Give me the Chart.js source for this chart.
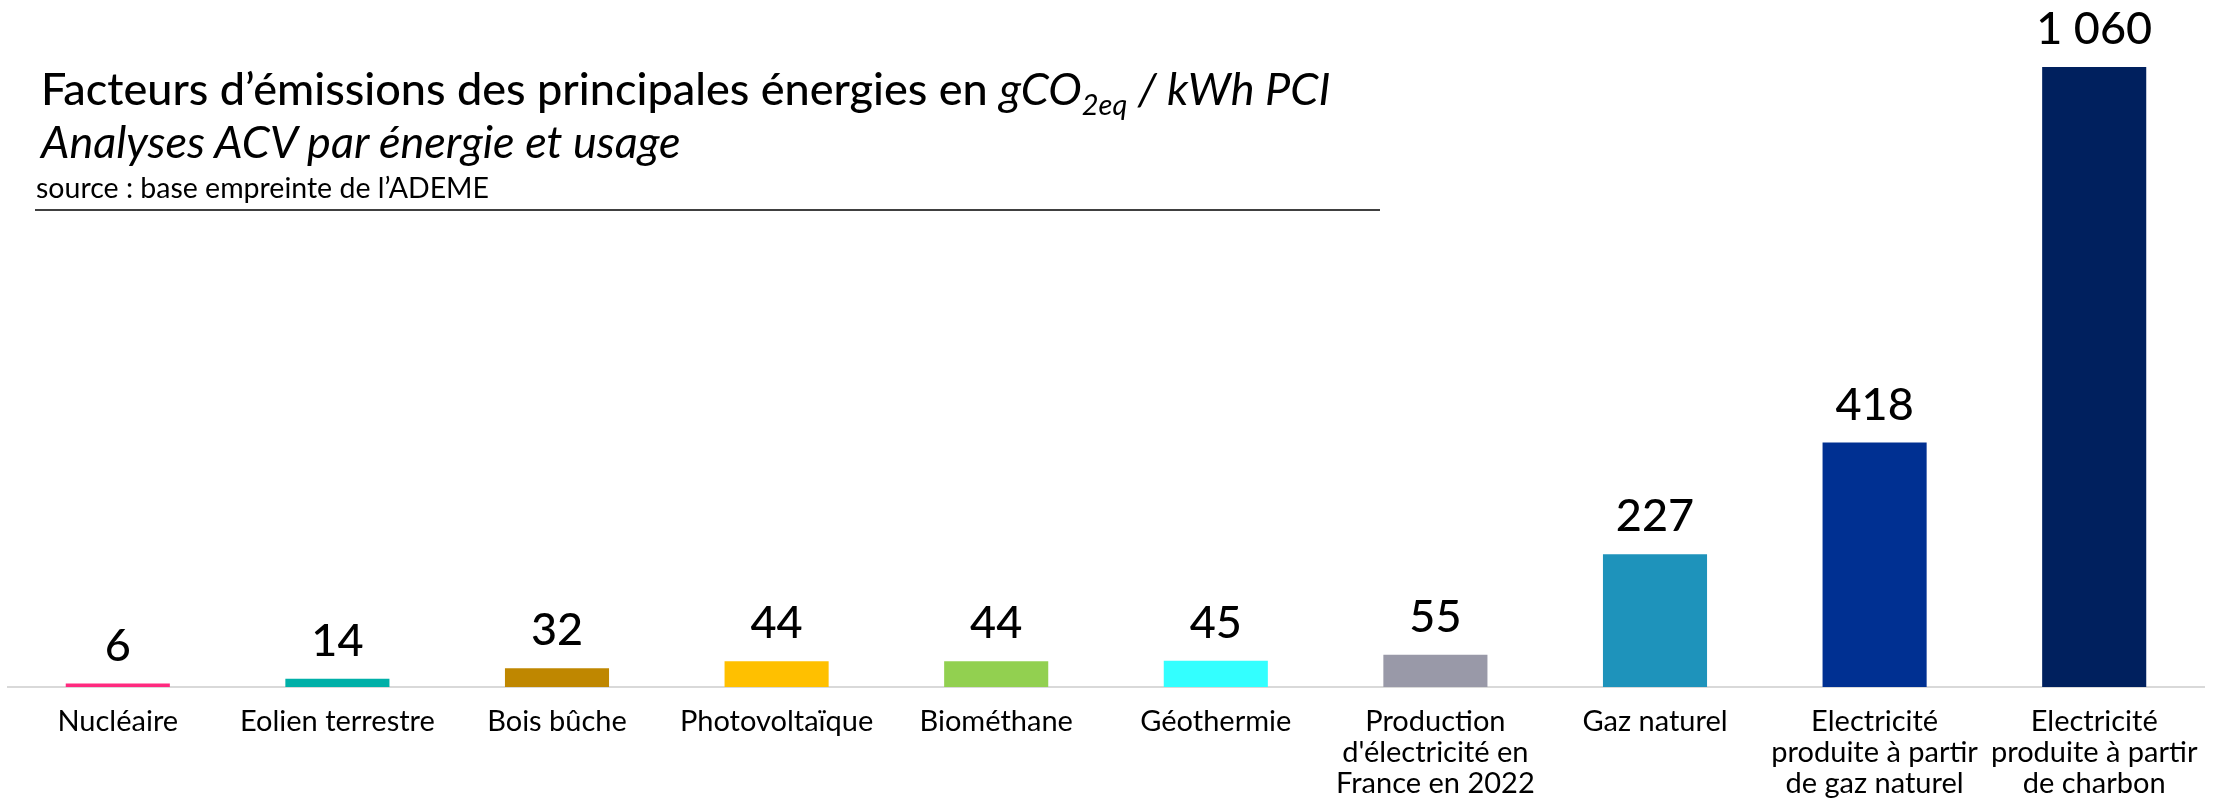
<!DOCTYPE html>
<html>
<head>
<meta charset="utf-8">
<script src="https://cdn.jsdelivr.net/npm/chart.js@4/dist/chart.umd.min.js"></script>
<style>
  html, body { margin: 0; padding: 0; background: #ffffff; }
  #wrap { position: relative; width: 2225px; height: 803px; }
  #c { position: absolute; left: 0; top: 0; }
  .t { position: absolute; font-family: Lato, "Noto Sans", sans-serif; color: #000; white-space: nowrap; line-height: 1.2; }
  #title { left: 41px; top: 61px; font-size: 45px; font-weight: 500; }
  #title i { font-weight: 400; }
  #title sub { font-size: 29px; vertical-align: -10px; line-height: 0; }
  #subtitle { left: 41px; top: 114px; font-size: 45px; font-style: italic; }
  #source { left: 36px; top: 170px; font-size: 28.5px; }
  #rule { position: absolute; left: 35px; top: 209px; width: 1345px; height: 2px; background: #404040; }
</style>
</head>
<body>
<div id="wrap">
  <canvas id="c" width="2225" height="803"></canvas>
  <div class="t" id="title">Facteurs d’émissions des principales énergies en <i>gCO<sub>2eq</sub> / kWh PCI</i></div>
  <div class="t" id="subtitle">Analyses ACV par énergie et usage</div>
  <div class="t" id="source">source : base empreinte de l’ADEME</div>
  <div id="rule"></div>
</div>
<script>
const categories = [
  "Nucléaire",
  "Eolien terrestre",
  "Bois bûche",
  "Photovoltaïque",
  "Biométhane",
  "Géothermie",
  ["Production", "d'électricité en", "France en 2022"],
  "Gaz naturel",
  ["Electricité", "produite à partir", "de gaz naturel"],
  ["Electricité", "produite à partir", "de charbon"]
];
const values = [6, 14, 32, 44, 44, 45, 55, 227, 418, 1060];
const barColors = ["#FF2A7F", "#00B0A8", "#BF8700", "#FFC000", "#92D050", "#33FFFF", "#9999A8", "#1E93BB", "#003092", "#00205E"];

function fmt(v) {
  return String(v).replace(/\B(?=(\d{3})+(?!\d))/g, " ");
}

const valueLabels = {
  id: 'valueLabels',
  afterDatasetsDraw(chart) {
    const ctx = chart.ctx;
    const meta = chart.getDatasetMeta(0);
    ctx.save();
    ctx.font = '500 45px Lato, "Noto Sans", sans-serif';
    ctx.fillStyle = '#000';
    ctx.textAlign = 'center';
    ctx.textBaseline = 'bottom';
    meta.data.forEach((bar, i) => {
      ctx.fillText(fmt(chart.data.datasets[0].data[i]), bar.x, bar.y - 15);
    });
    ctx.restore();
  }
};

new Chart(document.getElementById('c'), {
  type: 'bar',
  data: {
    labels: categories,
    datasets: [{
      data: values,
      backgroundColor: barColors,
      borderWidth: 0,
      categoryPercentage: 1,
      barPercentage: 0.474
    }]
  },
  options: {
    responsive: false,
    animation: false,
    events: [],
    layout: { padding: { top: 67, left: 8, right: 21, bottom: 0 } },
    plugins: { legend: { display: false }, tooltip: { enabled: false }, title: { display: false } },
    scales: {
      x: {
        afterFit(scale) { scale.height = 116; },
        grid: { display: false, drawTicks: false },
        border: { display: true, color: '#D9D9D9', width: 2 },
        ticks: {
          color: '#000',
          padding: 19,
          maxRotation: 0,
          autoSkip: false,
          font: { family: 'Lato, "Noto Sans", sans-serif', size: 29, lineHeight: 1.07 }
        }
      },
      y: {
        display: false,
        min: 0,
        max: 1060
      }
    }
  },
  plugins: [valueLabels]
});
</script>
</body>
</html>
